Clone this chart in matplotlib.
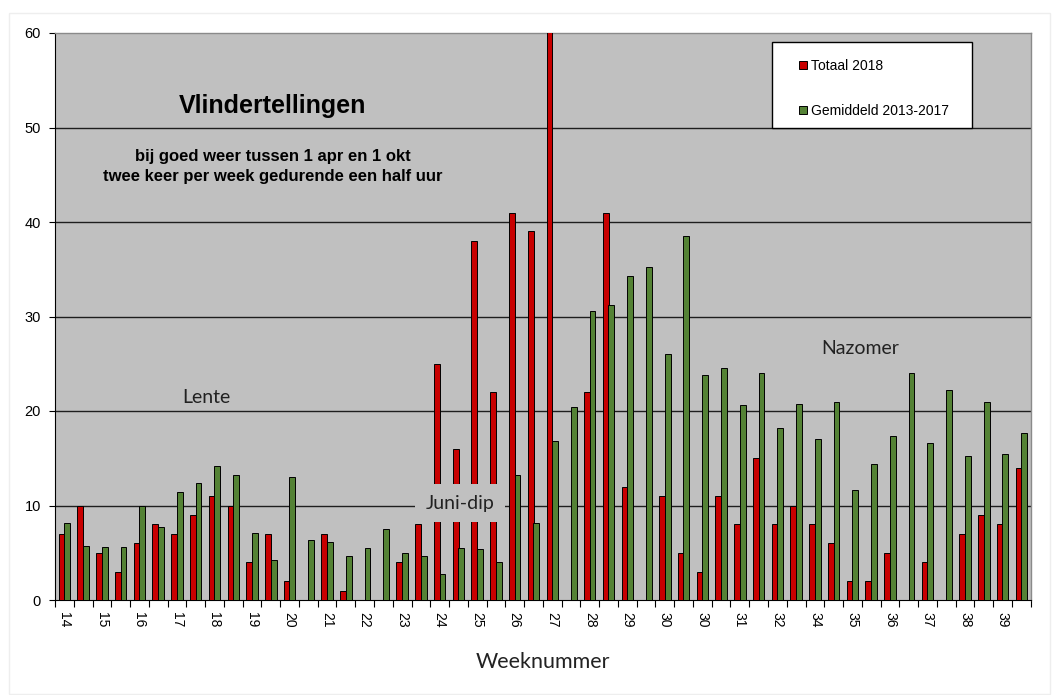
import matplotlib
matplotlib.use('Agg')
import matplotlib.pyplot as plt
from matplotlib.patches import Rectangle
import numpy as np

# ---------------- data ----------------
week_labels = ["14", "15", "16", "17", "18", "19", "20", "21", "22", "23", "24", "25", "26",
               "27", "28", "29", "30", "30", "31", "32", "34", "35", "36", "37", "38", "39"]
totaal_2018 = [7, 10, 5, 3, 6, 8, 7, 9, 11, 10,
               4, 7, 2, 0, 7, 1, 0, 0, 4, 8,
               25, 16, 38, 22, 41, 39, 62, 0, 22, 41,
               12, 0, 11, 5, 3, 11, 8, 15, 8, 10,
               8, 6, 2, 2, 5, 0, 4, 0, 7, 9, 8, 14]
gemiddeld_2013_2017 = [8.2, 5.7, 5.6, 5.6, 9.9, 7.7, 11.4, 12.4, 14.2, 13.2,
                       7.05, 4.2, 13.0, 6.3, 6.1, 4.7, 5.5, 7.5, 5.0, 4.7,
                       2.7, 5.5, 5.4, 4.0, 13.2, 8.2, 16.8, 20.4, 30.6, 31.2,
                       34.3, 35.2, 26.0, 38.5, 23.8, 24.6, 20.6, 24.0, 18.2, 20.7,
                       17.0, 21.0, 11.6, 14.4, 17.4, 24.0, 16.6, 22.2, 15.2, 21.0, 15.4, 17.7]
series_names = ["Totaal 2018", "Gemiddeld 2013-2017"]

# ---------------- layout ----------------
W, H = 1052, 695
ARIAL = 'Liberation Sans'
CAL = 'Lato'
RED = '#C80000'
GREEN = '#548235'


def fx(px):
    return px / W


def fy(py):
    return 1 - py / H


fig = plt.figure(figsize=(W / 100, H / 100), dpi=100)
fig.patch.set_facecolor('white')
fig.patches.append(Rectangle((fx(9), fy(694)), fx(1050) - fx(9), fy(13) - fy(694),
                             transform=fig.transFigure, facecolor='none',
                             edgecolor='#EEEEEE', linewidth=1))

ax = fig.add_axes([fx(55), fy(600), fx(1030.7) - fx(55), fy(33) - fy(600)])
ax.set_facecolor('#C0C0C0')

x = np.arange(len(totaal_2018))
bw = 0.31
b1 = ax.bar(x - 0.15, totaal_2018, bw, color=RED, edgecolor='black', linewidth=0.7,
            label=series_names[0], zorder=3)
b2 = ax.bar(x + 0.15, gemiddeld_2013_2017, bw, color=GREEN, edgecolor='black', linewidth=0.7,
            label=series_names[1], zorder=3)

ax.set_xlim(-0.5, len(x) - 0.5)
ax.set_ylim(0, 60)

# grid
ax.set_yticks(range(0, 61, 10))
for v in range(10, 60, 10):
    ax.axhline(v, color='#1e1e1e', linewidth=1.0, zorder=1)

# spines
for s in ['top', 'right']:
    ax.spines[s].set_color('#8a8a8a')
    ax.spines[s].set_linewidth(1)
ax.spines['left'].set_color('black')
ax.spines['bottom'].set_color('black')

# ticks
ax.tick_params(axis='y', length=4, width=0.8, pad=6, labelsize=10.5, direction='out')
for lab in ax.get_yticklabels():
    lab.set_fontfamily(ARIAL)

ax.set_xticks(x[::2])
ax.set_xticklabels(week_labels, rotation=-90, fontfamily=ARIAL, fontsize=10)
ax.tick_params(axis='x', which='major', length=0, pad=9)
ax.set_xticks(np.arange(-0.5, len(x), 1), minor=True)
ax.tick_params(axis='x', which='minor', length=5, width=0.8, direction='out')

ax.set_xlabel('Weeknummer', fontfamily=CAL, fontsize=15.5, labelpad=17, color='#222222')

# texts
fig.text(fx(273), fy(106), 'Vlindertellingen', ha='center', va='center',
         fontfamily=ARIAL, fontweight='bold', fontsize=18)
fig.text(fx(273), fy(157), 'bij goed weer tussen 1 apr en 1 okt', ha='center', va='center',
         fontfamily=ARIAL, fontweight='bold', fontsize=12)
fig.text(fx(273), fy(177), 'twee keer per week gedurende een half uur', ha='center', va='center',
         fontfamily=ARIAL, fontweight='bold', fontsize=12)

fig.text(fx(206), fy(398), 'Lente', ha='center', va='center', fontfamily=CAL,
         fontsize=14, color='#222222')
fig.text(fx(860), fy(349), 'Nazomer', ha='center', va='center', fontfamily=CAL,
         fontsize=14, color='#222222')
fig.text(fx(460), fy(503), 'Juni-dip', ha='center', va='center', fontfamily=CAL,
         fontsize=14, color='#222222', zorder=10,
         bbox=dict(boxstyle='square,pad=0.55', facecolor='#C0C0C0', edgecolor='none'))

# legend
fig.patches.append(Rectangle((fx(772), fy(128)), fx(972) - fx(772), fy(42) - fy(128),
                             transform=fig.transFigure, facecolor='white',
                             edgecolor='black', linewidth=1, zorder=5))
leg = fig.legend(handles=[b1, b2], loc='upper left', bbox_to_anchor=(fx(788), fy(48)),
                 frameon=False, handlelength=0.55, handleheight=0.55, handletextpad=0.3,
                 labelspacing=2.2, prop={'family': ARIAL, 'size': 10}, borderpad=0.3)
leg.set_zorder(6)

fig.savefig('out.png', dpi=100, facecolor='white')
